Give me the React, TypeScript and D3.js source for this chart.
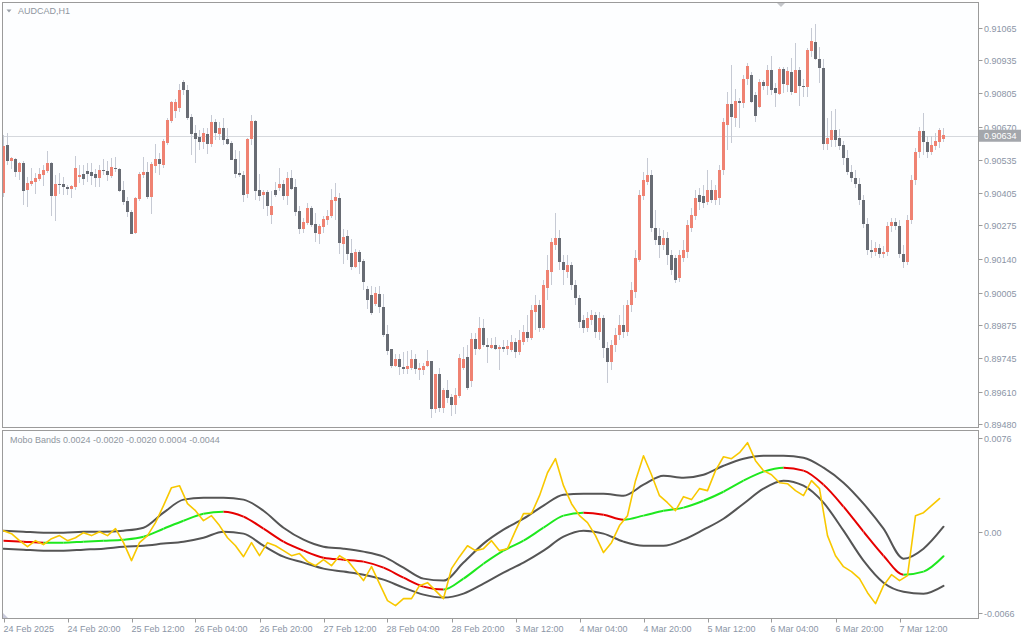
import React from "react";
import * as d3 from "d3";

// Prices are stored in points (1 point = 0.00001) above BASE
const BASE = 0.89;
const POINT = 0.00001;

const openPts = [
  1405,1597,1533,1541,1489,1525,1417,1441,1449,1461,
  1477,1493,1525,1393,1441,1441,1429,1421,1429,1469,
  1481,1493,1489,1481,1465,1497,1493,1473,1505,1501,
  1417,1373,1329,1245,1381,1477,1489,1389,1513,1541,
  1517,1605,1693,1733,1745,1849,1817,1709,1645,1629,
  1609,1641,1601,1689,1641,1665,1621,1605,1541,1485,
  1477,1401,1621,1693,1417,1397,1409,1317,1417,1425,
  1441,1393,1465,1429,1333,1261,1285,1345,1281,1241,
  1269,1297,1313,1373,1385,1201,1233,1165,1109,1169,
  1133,1021,997,961,1001,949,841,781,713,741,
  709,701,705,741,697,697,713,733,541,681,
  545,617,589,557,593,705,749,653,821,781,
  865,797,785,797,781,789,781,777,809,769,
  809,849,825,929,957,865,1025,1089,1197,1225,
  1129,1089,1117,1037,985,897,865,897,917,849,
  905,785,729,797,837,877,849,957,1009,1137,
  1393,1449,1477,1265,1233,1197,1225,1157,1145,1065,
  1145,1169,1265,1313,1397,1393,1369,1417,1377,1385,
  1497,1677,1761,1705,1773,1765,1861,1877,1797,1749,
  1849,1833,1897,1825,1801,1901,1837,1889,1805,1897,
  1833,1829,1973,2009,1941,1905,1601,1617,1657,1625,
  1597,1545,1489,1465,1441,1377,1281,1177,1169,1185,
  1161,1169,1273,1289,1273,1161,1129,1297,1457,1569,
  1653,1609,1569,1593,1609,1621,
];
const highPts = [
  1637,1645,1549,1545,1529,1533,1469,1505,1485,1505,
  1517,1573,1529,1477,1485,1469,1437,1437,1553,1517,
  1517,1525,1525,1501,1517,1541,1533,1545,1549,1505,
  1453,1389,1337,1389,1489,1549,1529,1529,1601,1565,
  1621,1705,1773,1781,1841,1857,1837,1721,1677,1657,
  1665,1665,1717,1701,1689,1705,1665,1613,1577,1573,
  1493,1625,1717,1697,1481,1417,1417,1413,1449,1505,
  1457,1489,1497,1461,1353,1305,1365,1353,1325,1281,
  1313,1337,1421,1445,1405,1261,1257,1221,1181,1177,
  1141,1033,1033,1029,1033,1001,877,781,761,761,
  769,773,777,761,725,725,777,733,681,705,
  625,657,601,625,761,789,797,845,845,909,
  901,825,825,829,797,817,817,837,825,857,
  877,917,957,997,977,1057,1157,1225,1325,1257,
  1157,1157,1129,1057,997,917,929,937,929,929,
  917,809,817,865,917,957,977,1049,1177,1417,
  1489,1545,1497,1337,1265,1257,1249,1177,1157,1177,
  1217,1297,1345,1417,1425,1437,1497,1457,1437,1517,
  1705,1809,1917,1821,1785,1877,1925,1889,1809,1861,
  1857,1917,1953,1845,1909,1909,1909,1945,2005,1909,
  1861,1985,2065,2081,1989,1941,1705,1733,1741,1661,
  1613,1577,1517,1497,1465,1397,1305,1217,1209,1201,
  1193,1289,1305,1305,1297,1197,1317,1477,1585,1669,
  1725,1633,1633,1645,1665,1665,
];
const lowPts = [
  1389,1517,1501,1469,1457,1357,1349,1433,1401,1453,
  1433,1485,1313,1293,1401,1397,1397,1385,1417,1445,
  1437,1449,1437,1429,1429,1477,1453,1465,1489,1409,
  1357,1309,1241,1241,1373,1465,1381,1321,1485,1477,
  1505,1597,1685,1705,1729,1797,1697,1557,1525,1577,
  1581,1561,1589,1617,1617,1597,1597,1537,1465,1469,
  1369,1385,1597,1377,1373,1341,1313,1281,1389,1413,
  1377,1357,1417,1313,1241,1245,1277,1269,1209,1201,
  1245,1277,1305,1297,1161,1121,1137,1097,1105,1081,
  1017,941,917,953,925,829,757,705,709,677,
  681,681,697,681,657,677,709,505,525,529,
  525,565,513,521,585,697,617,629,757,777,
  789,725,781,777,697,769,757,769,745,757,
  797,809,817,857,849,857,977,1037,1177,1097,
  1037,1065,1017,957,865,845,849,877,825,817,
  745,645,697,769,817,825,833,929,985,1129,
  1377,1437,1249,1197,1145,1177,1117,1077,1045,1049,
  1129,1145,1249,1297,1337,1345,1357,1365,1357,1357,
  1477,1577,1605,1669,1665,1745,1837,1765,1689,1745,
  1817,1797,1797,1749,1797,1805,1809,1797,1805,1753,
  1789,1789,1949,1937,1845,1577,1577,1589,1589,1577,
  1517,1477,1449,1425,1357,1265,1157,1145,1153,1145,
  1145,1153,1249,1257,1145,1105,1117,1281,1437,1545,
  1557,1545,1557,1577,1585,1609,
];
const closePts = [
  1593,1533,1545,1489,1525,1413,1445,1453,1465,1481,
  1497,1525,1393,1441,1437,1429,1421,1433,1505,1477,
  1461,1481,1473,1465,1497,1493,1477,1509,1501,1413,
  1369,1329,1241,1385,1481,1489,1389,1521,1541,1521,
  1613,1697,1769,1769,1817,1817,1705,1641,1621,1609,
  1645,1601,1689,1645,1665,1617,1601,1537,1481,1477,
  1397,1621,1693,1413,1393,1409,1353,1353,1397,1441,
  1393,1465,1421,1329,1261,1289,1345,1277,1245,1273,
  1301,1313,1377,1389,1205,1229,1161,1109,1169,1129,
  1049,977,925,1005,949,837,773,713,741,709,
  701,713,741,701,705,713,733,541,681,545,
  617,585,557,597,745,741,625,821,781,865,
  797,789,797,781,789,781,793,809,769,817,
  849,825,937,957,865,1037,1097,1209,1225,1129,
  1097,1117,1037,985,889,865,905,917,849,905,
  785,729,797,837,877,849,957,1017,1145,1397,
  1457,1477,1265,1217,1197,1225,1157,1097,1057,1157,
  1177,1277,1317,1385,1369,1365,1417,1377,1417,1497,
  1689,1761,1709,1773,1765,1861,1913,1769,1713,1849,
  1833,1897,1817,1805,1901,1841,1893,1809,1897,1833,
  1829,1977,2013,1941,1905,1601,1625,1657,1617,1593,
  1545,1489,1465,1441,1377,1281,1177,1169,1185,1161,
  1169,1273,1289,1273,1161,1129,1297,1457,1569,1653,
  1609,1569,1597,1613,1657,1637,
];

const timeLabels = [
  "24 Feb 2025", "24 Feb 20:00", "25 Feb 12:00", "26 Feb 04:00", "26 Feb 20:00",
  "27 Feb 12:00", "28 Feb 04:00", "28 Feb 20:00", "3 Mar 12:00", "4 Mar 04:00",
  "4 Mar 20:00", "5 Mar 12:00", "6 Mar 04:00", "6 Mar 20:00", "7 Mar 12:00",
];
const barsPerLabel = 16;

const priceTicks = [0.91065, 0.90935, 0.90805, 0.9067, 0.90535, 0.90405, 0.90275, 0.9014, 0.90005, 0.89875, 0.89745, 0.8961, 0.8948];
const lastPrice = 0.90634;
const symbolTitle = "AUDCAD,H1";

// Mobo Bands: yellow line one value every yellowStep bars
const yellowStep = 2;
const oscYellow = [
  0.00008,-0.00016,-0.00073,-0.00122,-0.00073,-0.00105,-0.00057,-0.00032,-0.00073,-0.00049,
  -0.00008,-0.00032,0,-0.00032,0.00024,-0.00089,-0.00235,-0.00089,-0.00032,0.00073,
  0.00211,0.00357,0.00373,0.00227,0.0017,0.00089,0.0013,0.00049,-0.00049,-0.00114,
  -0.00203,-0.00089,-0.00195,-0.00089,-0.00114,-0.00154,-0.00195,-0.00178,-0.00243,-0.00276,
  -0.00227,-0.00276,-0.00195,-0.00235,-0.00316,-0.00397,-0.00284,-0.00422,-0.0056,-0.006,
  -0.00543,-0.00543,-0.00438,-0.00414,-0.00478,-0.00543,-0.003,-0.00203,-0.00114,-0.00154,
  -0.00138,-0.00073,-0.00154,-0.00138,0.00008,0.00146,0.00146,0.00292,0.00478,0.00592,
  0.00373,0.00227,0.0013,0.00073,-0.00032,-0.0017,-0.00089,0.00049,0.0013,0.00414,
  0.00616,0.00462,0.00292,0.00235,0.0017,0.00284,0.0026,0.00349,0.00333,0.00495,
  0.00608,0.00592,0.00641,0.00722,0.00576,0.00495,0.00462,0.00397,0.00389,0.00333,
  0.00292,0.00414,0.00349,-0.00032,-0.00195,-0.00284,-0.00324,-0.00381,-0.00495,-0.00584,
  -0.00438,-0.00349,-0.00397,-0.00357,0.0013,0.00154,0.00211,0.00268,
];
// bands: one value every bandStep bars
const bandStep = 5;
const bandUpper = [
  0.00008,0,-0.00008,-0.00008,0,0,0.00008,0.00032,0.00154,0.0026,
  0.00276,0.00276,0.0026,0.0017,0.00032,-0.00065,-0.00122,-0.00138,-0.00162,-0.00203,
  -0.00292,-0.00381,-0.00397,-0.00251,-0.00097,0.00016,0.00105,0.00211,0.003,0.00308,
  0.00308,0.00292,0.00381,0.00454,0.00438,0.00462,0.00535,0.00592,0.00616,0.00616,
  0.006,0.00519,0.00397,0.00227,0.00024,-0.00219,-0.00138,0.0004,
];
const bandMid = [
  -0.00073,-0.00081,-0.00089,-0.00089,-0.00081,-0.00073,-0.00065,-0.00041,0.00024,0.00089,
  0.00146,0.00162,0.00122,0.00024,-0.00081,-0.00154,-0.00211,-0.00227,-0.00243,-0.00292,
  -0.00373,-0.00446,-0.0047,-0.00381,-0.0026,-0.00154,-0.00073,0.00032,0.0013,0.00154,
  0.00138,0.00097,0.0013,0.0017,0.00195,0.00251,0.00324,0.00414,0.00487,0.00519,
  0.00495,0.00381,0.00203,0,-0.00195,-0.00349,-0.00324,-0.002,
];
const bandLower = [
  -0.00138,-0.00146,-0.00154,-0.00154,-0.00146,-0.00138,-0.00122,-0.00114,-0.00097,-0.00081,
  -0.00049,0,-0.00016,-0.00114,-0.00203,-0.00251,-0.003,-0.00324,-0.00349,-0.00389,
  -0.00454,-0.00511,-0.00535,-0.00503,-0.00422,-0.00332,-0.00251,-0.00154,-0.00041,0.00008,
  -0.00016,-0.00081,-0.00114,-0.00114,-0.00065,0.00016,0.00105,0.00227,0.00349,0.00414,
  0.00373,0.00235,0.00008,-0.00235,-0.00414,-0.00487,-0.00503,-0.0044,
];
const oscTicks = [0.0076, 0, -0.0066];
const oscTickLabels = ["0.0076", "0.00", "-0.0066"];
const oscLegend = "Mobo Bands 0.0024 -0.0020 -0.0020 0.0004 -0.0044";

const FONT = "'Liberation Sans', Arial, sans-serif";
const TXT = "#8b95a6";
const BORDER = "#9b9b9b";
const BULL = "#ef8272";
const BEAR = "#686c74";
const WICK = "#c6cad4";

export default function App() {
  const n = closePts.length;
  const left = 2.5, right = 978.5;
  const topY0 = 2.5, topY1 = 427.5;
  const botY0 = 430.5, botY1 = 618.5;

  const x = d3.scaleLinear().domain([0, n - 1]).range([3.5, 3.5 + 4 * (n - 1)]);
  const py = d3.scaleLinear().domain([0.8948, 0.91065]).range([424.25, 28]);
  const oy = d3.scaleLinear().domain([-0.0066, 0.0076]).range([613, 438]);
  const P = (pts: number) => BASE + pts * POINT;

  const bandLine = d3
    .line<number>()
    .x((_, k) => x(k * bandStep))
    .y((v) => oy(v))
    .curve(d3.curveMonotoneX);
  const yellowLine = d3
    .line<number>()
    .x((_, k) => x(k * yellowStep))
    .y((v) => oy(v));
  const midPath = bandLine(bandMid) || "";
  const midSegs = bandMid.slice(1).map((v, k) => ({
    x0: x(k * bandStep),
    x1: x((k + 1) * bandStep),
    color: v >= bandMid[k] ? "#1ee81e" : "#e60000",
  }));

  return (
    <svg
      width={1024}
      height={640}
      style={{ position: "absolute", left: 0, top: 0, background: "#ffffff" }}
      fontFamily={FONT}
    >
      <defs>
        <clipPath id="clipTop">
          <rect x={left} y={topY0} width={right - left} height={topY1 - topY0} />
        </clipPath>
        <clipPath id="clipBot">
          <rect x={left} y={botY0} width={right - left} height={botY1 - botY0} />
        </clipPath>
        {midSegs.map((s, k) => (
          <clipPath key={k} id={`midSeg${k}`}>
            <rect x={s.x0} y={botY0} width={s.x1 - s.x0 + (k === midSegs.length - 1 ? 3 : 0)} height={botY1 - botY0} />
          </clipPath>
        ))}
      </defs>
      <rect x={0} y={0} width={1024} height={640} fill="#ffffff" />
      <rect x={left} y={topY0} width={right - left} height={topY1 - topY0} fill="#fdfeff" />
      <rect x={left} y={botY0} width={right - left} height={botY1 - botY0} fill="#fdfeff" />

      {/* current price line */}
      <line x1={left} x2={right} y1={Math.round(py(lastPrice)) + 0.5} y2={Math.round(py(lastPrice)) + 0.5} stroke="#d5d8dd" />

      {/* candles */}
      <g clipPath="url(#clipTop)">
        {closePts.map((c, i) => {
          const o = openPts[i];
          const hi = Math.max(highPts[i], o, c);
          const lo = Math.min(lowPts[i], o, c);
          const yTop = py(P(Math.max(o, c)));
          const yBot = py(P(Math.min(o, c)));
          return (
            <g key={i}>
              <line x1={x(i)} x2={x(i)} y1={py(P(hi))} y2={py(P(lo))} stroke={WICK} strokeWidth={1} />
              <rect
                x={x(i) - 1.5}
                y={yTop}
                width={3}
                height={Math.max(1, yBot - yTop)}
                fill={c >= o ? BULL : BEAR}
              />
            </g>
          );
        })}
      </g>

      {/* indicator */}
      <g clipPath="url(#clipBot)" fill="none" strokeLinejoin="round" strokeLinecap="round">
        <path d={bandLine(bandUpper) || ""} stroke="#555555" strokeWidth={2} />
        <path d={bandLine(bandLower) || ""} stroke="#555555" strokeWidth={2} />
        {midSegs.map((s, k) => (
          <path key={k} d={midPath} stroke={s.color} strokeWidth={2} clipPath={`url(#midSeg${k})`} />
        ))}
        <path d={yellowLine(oscYellow) || ""} stroke="#f8c800" strokeWidth={1.6} />
      </g>

      {/* panel borders */}
      <rect x={left} y={topY0} width={right - left} height={topY1 - topY0} fill="none" stroke={BORDER} />
      <rect x={left} y={botY0} width={right - left} height={botY1 - botY0} fill="none" stroke={BORDER} />

      {/* price axis */}
      {priceTicks.map((p, k) => {
        const yy = Math.round(py(p)) + 0.5;
        return (
          <g key={k}>
            <line x1={right} x2={right + 4} y1={yy} y2={yy} stroke={BORDER} />
            <text x={984} y={yy} dy="0.35em" fontSize={9} fill={TXT}>
              {p.toFixed(5)}
            </text>
          </g>
        );
      })}
      <rect x={979} y={py(lastPrice) - 6} width={42} height={12} fill="#a4a7ac" />
      <text x={984} y={py(lastPrice)} dy="0.35em" fontSize={9} fill="#ffffff">
        {lastPrice.toFixed(5)}
      </text>

      {/* oscillator axis */}
      {oscTicks.map((v, k) => {
        const yy = Math.round(oy(v)) + 0.5;
        return (
          <g key={k}>
            <line x1={right} x2={right + 4} y1={yy} y2={yy} stroke={BORDER} />
            <text x={984} y={yy} dy="0.35em" fontSize={9} fill={TXT}>
              {oscTickLabels[k]}
            </text>
          </g>
        );
      })}

      {/* time axis */}
      {timeLabels.map((t, k) => {
        const xx = Math.round(x(k * barsPerLabel)) + 0.5;
        return (
          <g key={k}>
            <line x1={xx} x2={xx} y1={botY1} y2={botY1 + 4} stroke={BORDER} />
            <text x={xx - 1} y={632} fontSize={9} fill={TXT}>
              {t}
            </text>
          </g>
        );
      })}

      {/* titles */}
      <polygon points="6.5,9.5 11.5,9.5 9,12.5" fill="#9aa0a8" />
      <text x={18} y={14} fontSize={9} fill="#8f96a0">
        {symbolTitle}
      </text>
      <text x={10} y={443} fontSize={9} fill="#8f96a0">
        {oscLegend}
      </text>
      <polygon points="777,3 785,3 781,7" fill="#c4c6ca" />
      <polygon points="3,613 3,618 8,618" fill="#c9cadb" />
    </svg>
  );
}
